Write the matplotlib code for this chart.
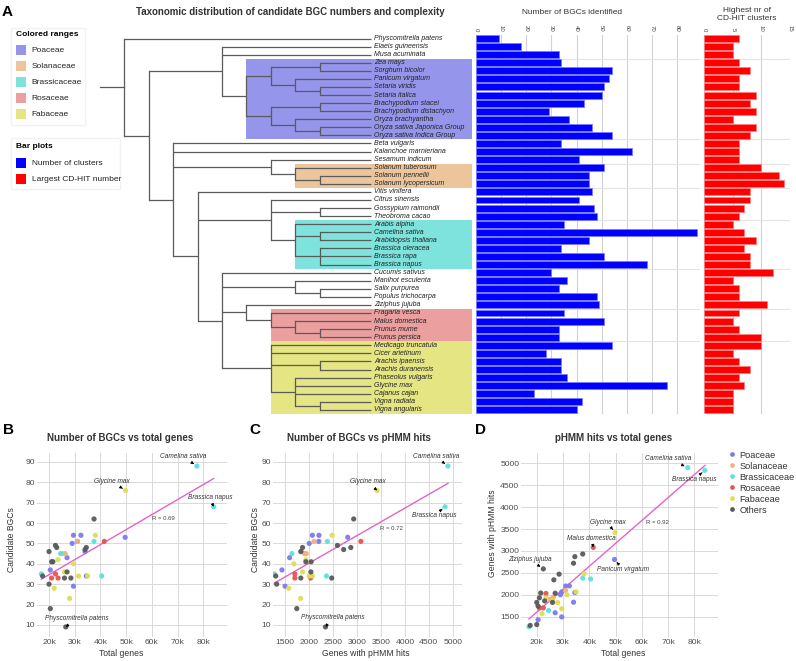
import numpy as np
import matplotlib
matplotlib.use('Agg')
import matplotlib.pyplot as plt
from matplotlib.patches import Rectangle
from matplotlib.lines import Line2D

plt.rcParams['font.family'] = ['Liberation Sans', 'DejaVu Sans']

# ---------------- data ----------------
species = [
    'Physcomitrella patens', 'Elaeis guineensis', 'Musa acuminata', 'Zea mays', 'Sorghum bicolor',
    'Panicum virgatum', 'Setaria viridis', 'Setaria italica', 'Brachypodium stacei',
    'Brachypodium distachyon', 'Oryza brachyantha', 'Oryza sativa Japonica Group',
    'Oryza sativa Indica Group', 'Beta vulgaris', 'Kalanchoe marnieriana', 'Sesamum indicum',
    'Solanum tuberosum', 'Solanum pennellii', 'Solanum lycopersicum', 'Vitis vinifera',
    'Citrus sinensis', 'Gossypium raimondii', 'Theobroma cacao', 'Arabis alpina',
    'Camelina sativa', 'Arabidopsis thaliana', 'Brassica oleracea', 'Brassica rapa',
    'Brassica napus', 'Cucumis sativus', 'Manihot esculenta', 'Salix purpurea',
    'Populus trichocarpa', 'Ziziphus jujuba', 'Fragaria vesca', 'Malus domestica',
    'Prunus mume', 'Prunus persica', 'Medicago truncatula', 'Cicer arietinum',
    'Arachis ipaensis', 'Arachis duranensis', 'Phaseolus vulgaris', 'Glycine max',
    'Cajanus cajan', 'Vigna radiata', 'Vigna angularis']
family = (['Others'] * 3 + ['Poaceae'] * 10 + ['Others'] * 3 + ['Solanaceae'] * 3 +
          ['Others'] * 4 + ['Brassicaceae'] * 6 + ['Others'] * 5 + ['Rosaceae'] * 4 +
          ['Fabaceae'] * 9)
bgc_counts = [9, 18, 33, 34, 54, 53, 51, 50, 43, 29, 37, 46, 54, 34, 62, 41, 51, 45, 45, 46,
              41, 47, 48, 35, 88, 45, 34, 51, 68, 30, 36, 33, 48, 49, 35, 51, 33, 33, 54, 28,
              34, 34, 36, 76, 23, 42, 40]
cdhit_max = [6, 5, 5, 6, 8, 6, 6, 9, 8, 9, 5, 9, 8, 6, 6, 6, 10, 13, 14, 8, 8, 7, 6, 5, 7, 9,
             7, 8, 8, 12, 5, 6, 6, 11, 6, 5, 6, 10, 10, 5, 6, 8, 6, 7, 5, 5, 5]
total_genes_k = [26.5, 20.5, 26.0, 34.5, 29.5, 49.6, 31.0, 29.0, 27.0, 29.5, 20.5, 34.0, 32.4,
                 17.5, 37.5, 21.5, 31.0, 25.0, 26.3, 20.0, 21.0, 34.0, 23.0, 17.0, 77.5, 24.5,
                 40.5, 37.5, 84.0, 20.0, 27.0, 28.5, 34.5, 22.5, 22.5, 41.5, 21.0, 23.5, 38.0,
                 22.0, 31.5, 35.0, 26.0, 49.8, 28.0, 23.5, 29.5]
phmm_hits = [2340, 1740, 1825, 2050, 2065, 2805, 2200, 2000, 1590, 1495, 1430, 1830, 2204,
             1300, 2930, 2040, 2100, 1900, 1940, 1825, 1930, 2720, 1860, 1270, 4900, 1640,
             2360, 2380, 4840, 1320, 2035, 2470, 2870, 2590, 1700, 3080, 1700, 2030, 2480,
             1570, 2000, 2065, 1860, 3420, 1820, 1930, 1680]

family_names = ['Poaceae', 'Solanaceae', 'Brassicaceae', 'Rosaceae', 'Fabaceae']
range_colors = ['#9595eb', '#edc59d', '#7ee3dd', '#eb9f9f', '#e5e584']
range_levels = [6, 8, 8, 7, 7]
scatter_groups = family_names + ['Others']
scatter_colors = ['#7b7bec', '#f2b07e', '#5fe0dc', '#e55454', '#dede55', '#5a5a5a']

# cladogram: (rank level, [children]); leaves are species indices
tree = (1, [0, (2, [
    (5, [1, 2, (6, [(7, [(9, [3, 4]), (8, [5, (9, [6, 7])])]),
                    (7, [(9, [8, 9]), (8, [10, (9, [11, 12])])])])]),
    (3, [13, 14, (7, [15, (8, [16, (9, [17, 18])])]),
         (4, [19,
              (7, [20, (9, [21, 22]), (8, [23, (9, [24, 25]), (9, [26, 27, 28])])]),
              (5, [29, (8, [30, (9, [31, 32])]),
                   (6, [33, (7, [34, (8, [35, (9, [36, 37])])])]),
                   (7, [38, 39, (9, [40, 41]), (8, [42, 43, 44, (9, [45, 46])])])])])])])])

# ---------------- figure ----------------
W, H = 796, 661
fig = plt.figure(figsize=(W / 100, H / 100), dpi=100)


def fx(px):
    return px / W


def fy(py):
    return 1 - py / H


overlay = fig.add_axes([0, 0, 1, 1])
overlay.set_xlim(0, W)
overlay.set_ylim(H, 0)
overlay.axis('off')

n = len(species)
top_px, bot_px = 34.5, 413.9
hA = (bot_px - top_px) / H

# ---- tree ----
ax_tree = fig.add_axes([0, fy(bot_px), fx(475), hA])
ax_tree.set_xlim(0, 475)
ax_tree.set_ylim(n - 0.5, -0.5)
ax_tree.axis('off')
LEVEL_X0, LEVEL_DX, TIP_X, RECT_R = 100.0, 24.4, 371.0, 472.0
tree_color = '#5a5a5a'


def lx(level):
    return LEVEL_X0 + LEVEL_DX * level


for fam, col, lev in zip(family_names, range_colors, range_levels):
    rows = [i for i, f in enumerate(family) if f == fam]
    ax_tree.add_patch(Rectangle((lx(lev), min(rows) - 0.5), RECT_R - lx(lev),
                                max(rows) - min(rows) + 1, facecolor=col,
                                edgecolor='none', zorder=0))


def draw(node):
    if isinstance(node, int):
        return node, TIP_X
    level, children = node
    x = lx(level)
    ys = []
    for ch in children:
        cy, cx = draw(ch)
        ax_tree.plot([x, cx], [cy, cy], color=tree_color, lw=0.9,
                     solid_capstyle='butt', zorder=2)
        ys.append(cy)
    ax_tree.plot([x, x], [ys[0], ys[-1]], color=tree_color, lw=0.9,
                 solid_capstyle='projecting', zorder=2)
    return (ys[0] + ys[-1]) / 2, x


ry, rx = draw(tree)
ax_tree.plot([LEVEL_X0, rx], [ry, ry], color=tree_color, lw=0.9, zorder=2)

for i, s in enumerate(species):
    ax_tree.text(374, i, s, fontsize=5, style='italic', va='center', ha='left',
                 color='#222222', zorder=3)

# ---- bars ----
rows = np.arange(n)
ax_b = fig.add_axes([fx(476), fy(bot_px), 223.8 / W, hA])
ax_b.barh(rows, bgc_counts, height=0.86, color='#0000ff', edgecolor='#7a7aff',
          lw=0.5, zorder=3)
ax_b.set_xlim(0, 89)
ax_b.set_xticks(range(0, 81, 10))

ax_r = fig.add_axes([fx(704.3), fy(bot_px), 85.7 / W, hA])
ax_r.barh(rows, cdhit_max, height=0.86, color='#ff0000', edgecolor='#ff8080',
          lw=0.5, zorder=3)
ax_r.set_xlim(0, 15)
ax_r.set_xticks([0, 5, 10, 15])

bounds = []
for fam in family_names:
    rr = [i for i, f in enumerate(family) if f == fam]
    bounds += [min(rr) - 0.5, max(rr) + 0.5]
for a in (ax_b, ax_r):
    a.set_ylim(n - 0.5, -0.5)
    a.xaxis.tick_top()
    a.tick_params(axis='x', length=0, labelsize=4.3, labelrotation=-90, pad=2,
                  colors='#444444')
    a.set_yticks([])
    for sp in a.spines.values():
        sp.set_visible(False)
    a.grid(axis='x', color='#d2d2d2', lw=0.8, zorder=0)
    a.set_axisbelow(True)
    for b in sorted(set(bounds)):
        a.axhline(b, color='#e4e4e4', lw=0.8, zorder=1)
    a.patch.set_alpha(0)

# ---- panel A texts and legends ----
fig.text(fx(2), fy(12), 'A', fontsize=11, fontweight='bold', va='center', ha='left')
fig.text(fx(290), fy(12), 'Taxonomic distribution of candidate BGC numbers and complexity',
         fontsize=7, fontweight='bold', ha='center', va='center', color='#333333')
fig.text(fx(572), fy(12), 'Number of BGCs identified', fontsize=6, ha='center',
         va='center', color='#333333')
fig.text(fx(747), fy(15), 'Highest nr of\nCD-HIT clusters', fontsize=6, ha='center',
         va='center', color='#333333', linespacing=1.2)

overlay.add_patch(Rectangle((11, 28), 74, 97, facecolor='white', edgecolor='#f2f2f2', lw=1))
overlay.text(16, 35, 'Colored ranges', fontsize=6, fontweight='bold', va='center')
for k, (fam, col) in enumerate(zip(family_names, range_colors)):
    yc = 50 + k * 16
    overlay.add_patch(Rectangle((16, yc - 5), 10, 10, facecolor=col, edgecolor='none'))
    overlay.text(31.5, yc, fam, fontsize=6, va='center', color='#222222')

overlay.add_patch(Rectangle((11, 138), 109, 51, facecolor='white', edgecolor='#f2f2f2', lw=1))
overlay.text(16, 147, 'Bar plots', fontsize=6, fontweight='bold', va='center')
for k, (lab, col) in enumerate([('Number of clusters', '#0000ff'),
                                ('Largest CD-HIT number', '#ff0000')]):
    yc = 163.3 + k * 16
    overlay.add_patch(Rectangle((16, yc - 5), 10, 10, facecolor=col, edgecolor='none'))
    overlay.text(31.5, yc, lab, fontsize=6, va='center', color='#222222')

# ---------------- scatter panels ----------------
fam_idx = {g: [i for i, f in enumerate(family) if f == g] for g in scatter_groups}
tg = np.array(total_genes_k)
ph = np.array(phmm_hits, dtype=float)
bg = np.array(bgc_counts, dtype=float)
line_color = '#e563c8'


def panel(rect, x, y, xlim, ylim, xticks, xtl, yticks, title, tpos, xlabel, xlpos,
          ylabel, ylpos, letter, letpos, rtext, rpos, annots):
    l, t, r, b = rect
    ax = fig.add_axes([fx(l), fy(b), (r - l) / W, (b - t) / H])
    for g, c in zip(scatter_groups, scatter_colors):
        ii = fam_idx[g]
        ax.scatter(x[ii], y[ii], s=14, color=c, edgecolors='none', zorder=3, alpha=0.95)
    k, c0 = np.polyfit(x, y, 1)
    xs = np.array([x.min(), x.max()])
    ax.plot(xs, k * xs + c0, color=line_color, lw=1.0, zorder=2)
    ax.set_xlim(*xlim)
    ax.set_ylim(*ylim)
    ax.set_xticks(xticks)
    ax.set_xticklabels(xtl)
    ax.set_yticks(yticks)
    for sp in ax.spines.values():
        sp.set_visible(False)
    ax.grid(True, color='#d9d9d9', lw=0.7, zorder=0)
    ax.set_axisbelow(True)
    ax.tick_params(length=0, labelsize=6.1, labelcolor='#4d4d4d', pad=1.3)
    ax.text(rpos[0], rpos[1], rtext, fontsize=4.3, color='#444444', ha='center', va='center')
    for idx, (ox, oy) in annots:
        ax.annotate(species[idx], (x[idx], y[idx]), xytext=(ox, oy), textcoords='offset points',
                    fontsize=4.7, style='italic', color='#333333', ha='center', va='center',
                    arrowprops=dict(arrowstyle='-|>', color='black', lw=0.6,
                                    mutation_scale=4, shrinkA=0.5, shrinkB=2.5))
    fig.text(fx(tpos[0]), fy(tpos[1]), title, fontsize=7, fontweight='bold', ha='center',
             va='center', color='#333333')
    fig.text(fx(xlpos[0]), fy(xlpos[1]), xlabel, fontsize=6.2, ha='center', va='center',
             color='#333333')
    fig.text(fx(ylpos[0]), fy(ylpos[1]), ylabel, fontsize=6.2, ha='center', va='center',
             rotation=90, color='#333333')
    fig.text(fx(letpos[0]), fy(letpos[1]), letter, fontsize=11, fontweight='bold',
             ha='center', va='center')
    return ax


kticks = list(range(20, 81, 10))
ktl = [f'{v}k' for v in kticks]
cam, nap, gly, phy = 24, 28, 43, 0
mal, ziz, pan = 35, 33, 5

panel((36.7, 453, 226.7, 636.7), tg, bg, (15.2, 89.1), (4.2, 94.4), kticks, ktl,
      range(10, 91, 10), 'Number of BGCs vs total genes', (120.5, 438),
      'Total genes', (120.7, 653), 'Candidate BGCs', (11.7, 540), 'B', (8, 430),
      'R = 0.69', (64.4, 62.3),
      [(cam, (-10, 6.7)), (gly, (-10, 6.3)), (nap, (-2.6, 6.5)), (phy, (8, 6.2))])

cticks = list(range(1500, 5001, 500))
panel((273, 453, 462, 636.7), ph, bg, (1243, 5194), (4.2, 94.4), cticks,
      [str(v) for v in cticks], range(10, 91, 10), 'Number of BGCs vs pHMM hits',
      (359, 438), 'Genes with pHMM hits', (366, 653), 'Candidate BGCs', (255, 540),
      'C', (255, 430), 'R = 0.72', (3726, 57.4),
      [(cam, (-8.8, 6.7)), (gly, (-7, 6.3)), (nap, (-8, -6.5)), (phy, (5, 6.5))])

panel((521, 453, 718, 637), tg, ph, (14.0, 89.0), (1036, 5235), kticks, ktl,
      range(1500, 5001, 500), 'pHMM hits vs total genes', (613.3, 438),
      'Total genes', (622.7, 653), 'Genes with pHMM hits', (492.5, 533),
      'D', (481, 430), 'R = 0.92', (65.9, 3653),
      [(cam, (-14, 6.8)), (nap, (-7.8, -6.5)), (gly, (-5.5, 7)), (mal, (-1, 6.3)),
       (ziz, (-10, 7)), (pan, (6, -7))])

handles = [Line2D([], [], marker='o', ls='none', markersize=3.4, color=c,
                  markeredgewidth=0) for c in scatter_colors]
fig.legend(handles, scatter_groups, loc='upper left', bbox_to_anchor=(fx(724), fy(446)),
           frameon=False, fontsize=6.6, handlelength=0.8, handletextpad=0.4,
           labelspacing=0.22, borderpad=0, labelcolor='#333333')

fig.savefig('out.png', dpi=100)
